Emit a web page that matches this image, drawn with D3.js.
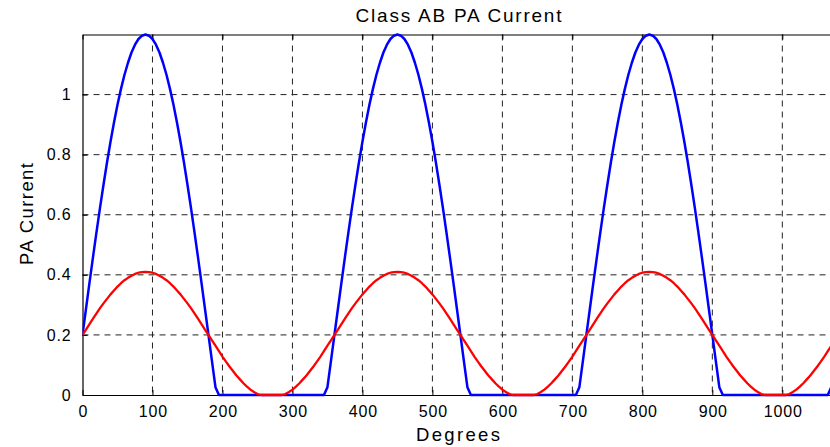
<!DOCTYPE html>
<html>
<head>
<meta charset="utf-8">
<script src="https://cdn.jsdelivr.net/npm/d3@7"></script>
<style>
  html, body { margin: 0; padding: 0; background: #fff; }
  svg { display: block; }
  text { font-family: "Liberation Sans", Arial, sans-serif; fill: #000; }
</style>
</head>
<body>
<svg id="chart" width="830" height="447"></svg>
<script>
const degreeStep = 5;
const degreeMax = 1080;
const xTicks = [0, 100, 200, 300, 400, 500, 600, 700, 800, 900, 1000];
const yTicks = [0, 0.2, 0.4, 0.6, 0.8, 1];
const yTickLabels = ["0", "0.2", "0.4", "0.6", "0.8", "1"];
const titleText = "Class AB PA Current";
const xLabelText = "Degrees";
const yLabelText = "PA Current";

// blue: PA current
const blueCurrent = [
  0.200,0.287,0.374,0.459,0.542,0.623,0.700,0.774,0.843,0.907,0.966,1.019,1.066,1.106,1.140,1.166,1.185,1.196,1.200,1.196,1.185,1.166,1.140,1.106,1.066,1.019,0.966,0.907,0.843,0.774,0.700,0.623,0.542,0.459,0.374,0.287,0.200,0.113,0.026,
  0,0,0,0,0,0,0,0,0,0,0,0,0,0,0,0,0,0,0,0,0,0,0,0,0,0,0,0,0,0,0,
  0.026,0.113,
  0.200,0.287,0.374,0.459,0.542,0.623,0.700,0.774,0.843,0.907,0.966,1.019,1.066,1.106,1.140,1.166,1.185,1.196,1.200,1.196,1.185,1.166,1.140,1.106,1.066,1.019,0.966,0.907,0.843,0.774,0.700,0.623,0.542,0.459,0.374,0.287,0.200,0.113,0.026,
  0,0,0,0,0,0,0,0,0,0,0,0,0,0,0,0,0,0,0,0,0,0,0,0,0,0,0,0,0,0,0,
  0.026,0.113,
  0.200,0.287,0.374,0.459,0.542,0.623,0.700,0.774,0.843,0.907,0.966,1.019,1.066,1.106,1.140,1.166,1.185,1.196,1.200,1.196,1.185,1.166,1.140,1.106,1.066,1.019,0.966,0.907,0.843,0.774,0.700,0.623,0.542,0.459,0.374,0.287,0.200,0.113,0.026,
  0,0,0,0,0,0,0,0,0,0,0,0,0,0,0,0,0,0,0,0,0,0,0,0,0,0,0,0,0,0,0,
  0.026,0.113,
  0.200
];

// red: average current
const redCurrent = [
  0.200,0.218,0.236,0.254,0.272,0.289,0.305,0.320,0.335,0.348,0.361,0.372,0.382,0.390,0.397,0.403,0.407,0.409,0.410,0.409,0.407,0.403,0.397,0.390,0.382,0.372,0.361,0.348,0.335,0.320,0.305,0.289,0.272,0.254,0.236,0.218,
  0.200,0.182,0.164,0.146,0.128,0.111,0.095,0.080,0.065,0.052,0.039,0.028,0.018,0.010,0.003,0,0,0,0,0,0,0,0.003,0.010,0.018,0.028,0.039,0.052,0.065,0.080,0.095,0.111,0.128,0.146,0.164,0.182,
  0.200,0.218,0.236,0.254,0.272,0.289,0.305,0.320,0.335,0.348,0.361,0.372,0.382,0.390,0.397,0.403,0.407,0.409,0.410,0.409,0.407,0.403,0.397,0.390,0.382,0.372,0.361,0.348,0.335,0.320,0.305,0.289,0.272,0.254,0.236,0.218,
  0.200,0.182,0.164,0.146,0.128,0.111,0.095,0.080,0.065,0.052,0.039,0.028,0.018,0.010,0.003,0,0,0,0,0,0,0,0.003,0.010,0.018,0.028,0.039,0.052,0.065,0.080,0.095,0.111,0.128,0.146,0.164,0.182,
  0.200,0.218,0.236,0.254,0.272,0.289,0.305,0.320,0.335,0.348,0.361,0.372,0.382,0.390,0.397,0.403,0.407,0.409,0.410,0.409,0.407,0.403,0.397,0.390,0.382,0.372,0.361,0.348,0.335,0.320,0.305,0.289,0.272,0.254,0.236,0.218,
  0.200,0.182,0.164,0.146,0.128,0.111,0.095,0.080,0.065,0.052,0.039,0.028,0.018,0.010,0.003,0,0,0,0,0,0,0,0.003,0.010,0.018,0.028,0.039,0.052,0.065,0.080,0.095,0.111,0.128,0.146,0.164,0.182,
  0.200
];

// ---- layout ----
const svg = d3.select("#chart");
const plot = { left: 82.5, right: 838.3, top: 34.5, bottom: 395 };

const x = d3.scaleLinear().domain([0, degreeMax]).range([plot.left, plot.right]);
const y = d3.scaleLinear().domain([0, 1.2]).range([plot.bottom, plot.top]);

svg.append("defs").append("clipPath").attr("id", "plotClip")
  .append("rect")
  .attr("x", plot.left).attr("y", plot.top - 2)
  .attr("width", plot.right - plot.left).attr("height", plot.bottom - plot.top + 4);

// grid
const grid = svg.append("g").attr("class", "grid");
grid.selectAll("line.vx").data(xTicks.filter(d => d > 0)).join("line")
  .attr("x1", d => x(d)).attr("x2", d => x(d))
  .attr("y1", plot.top).attr("y2", plot.bottom)
  .attr("stroke", "#222").attr("stroke-width", 1).attr("stroke-dasharray", "6,5");
grid.selectAll("line.hy").data(yTicks.filter(d => d > 0)).join("line")
  .attr("x1", plot.left).attr("x2", plot.right)
  .attr("y1", d => y(d)).attr("y2", d => y(d))
  .attr("stroke", "#222").attr("stroke-width", 1).attr("stroke-dasharray", "6,5");

// axes
const xAxis = d3.axisBottom(x).tickValues(xTicks).tickSizeInner(-5).tickSizeOuter(0).tickPadding(11)
  .tickFormat(d3.format("d"));
const yAxis = d3.axisLeft(y).tickValues(yTicks).tickSizeInner(-5).tickSizeOuter(0).tickPadding(11)
  .tickFormat((d, i) => yTickLabels[i]);

const gx = svg.append("g").attr("transform", `translate(0,${plot.bottom})`).call(xAxis);
const gy = svg.append("g").attr("transform", `translate(${plot.left},0)`).call(yAxis);
// mirrored top ticks (box)
const gxTop = svg.append("g").attr("transform", `translate(0,${plot.top})`)
  .call(d3.axisTop(x).tickValues(xTicks).tickSizeInner(-5).tickSizeOuter(0).tickFormat(""));

[gx, gy, gxTop].forEach(g => {
  g.select(".domain").attr("stroke", "#000").attr("stroke-width", 1.2);
  g.selectAll(".tick line").attr("stroke", "#000");
  g.selectAll(".tick text").attr("font-size", 16).attr("letter-spacing", "0.8px")
    .attr("font-family", "'Liberation Sans', Arial, sans-serif").attr("fill", "#000");
});
gx.selectAll(".tick text").attr("dy", "0.71em").attr("dx", "0.4px");

// lines
const degrees = blueCurrent.map((_, i) => i * degreeStep);
const line = d3.line().x((d, i) => x(degrees[i])).y(d => y(d));

const lines = svg.append("g").attr("clip-path", "url(#plotClip)");
lines.append("path").datum(blueCurrent)
  .attr("d", line).attr("fill", "none").attr("stroke", "#0000ff")
  .attr("stroke-width", 2.5).attr("stroke-linejoin", "round");
lines.append("path").datum(redCurrent)
  .attr("d", line).attr("fill", "none").attr("stroke", "#ff0000")
  .attr("stroke-width", 2.3).attr("stroke-linejoin", "round");

// titles
svg.append("text").attr("x", 458.5).attr("y", 22).attr("text-anchor", "middle")
  .attr("font-size", 19).attr("textLength", 206).attr("lengthAdjust", "spacing")
  .text(titleText);
svg.append("text").attr("x", 458).attr("y", 441).attr("text-anchor", "middle")
  .attr("font-size", 18.5).attr("textLength", 84).attr("lengthAdjust", "spacing")
  .text(xLabelText);
svg.append("text").attr("transform", "translate(33,214) rotate(-90)").attr("text-anchor", "middle")
  .attr("font-size", 18.5).attr("textLength", 102).attr("lengthAdjust", "spacing")
  .text(yLabelText);
</script>
</body>
</html>
